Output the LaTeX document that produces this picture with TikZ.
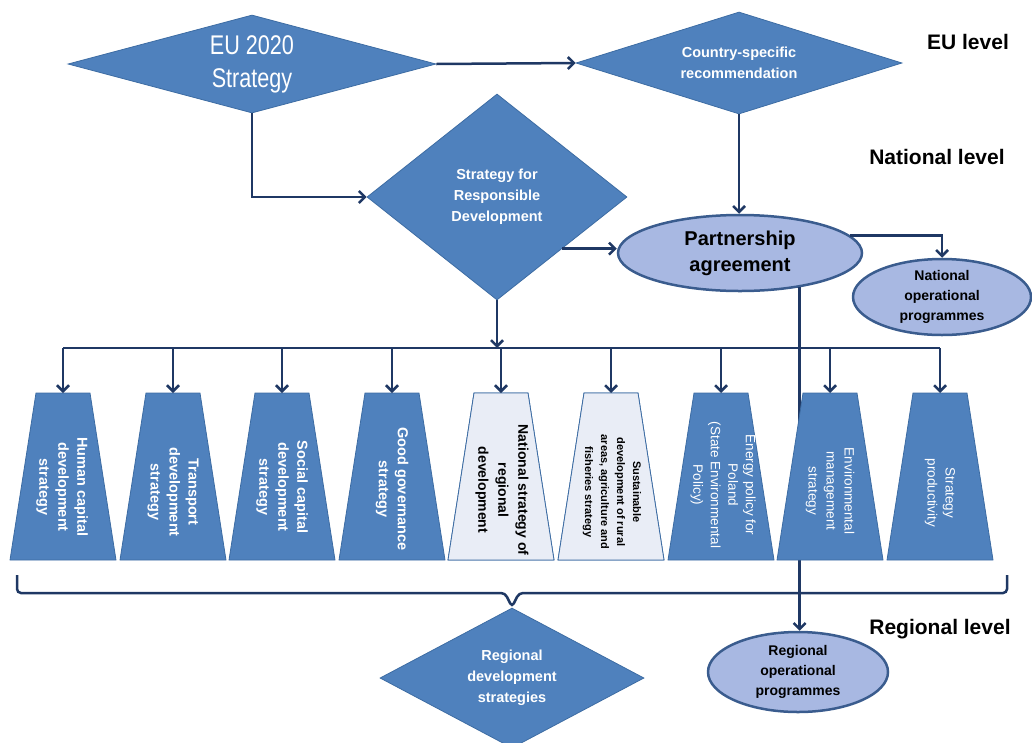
\documentclass[tikz,border=0pt]{standalone}
\usepackage{fontspec}
\setmainfont{Liberation Sans}
\newfontfamily\narrowfont{Liberation Sans}[FakeStretch=0.8]
\usetikzlibrary{shapes.geometric,arrows.meta,positioning}

\definecolor{boxblue}{HTML}{4F81BD}
\definecolor{boxline}{HTML}{3D6CA3}
\definecolor{arrownavy}{HTML}{1F3864}
\definecolor{ovalfill}{HTML}{A8B8E2}
\definecolor{ovalline}{HTML}{3A5C8E}
\definecolor{palebox}{HTML}{E9EDF6}

\begin{document}
\begin{tikzpicture}[x=1pt, y=-1pt,
  diam/.style={diamond, fill=boxblue, draw=boxline, line width=0.8pt, inner sep=0pt,
    text=white, align=center, font=\bfseries\fontsize{14.5}{21}\selectfont},
  oval/.style={ellipse, fill=ovalfill, draw=ovalline, line width=2.5pt, inner sep=-4pt,
    align=center, font=\bfseries\fontsize{14}{20}\selectfont},
  trap/.style={fill=boxblue, draw=boxline, line width=0.8pt},
  traptext/.style={rotate=-90, align=center, text=white,
    font=\bfseries\fontsize{14.5}{19}\selectfont},
  levellabel/.style={font=\bfseries\fontsize{21}{24}\selectfont},
  arr/.style={draw=arrownavy, line width=2.5pt, -{Straight Barb[length=6pt,width=12pt]}},
  link/.style={draw=arrownavy, line width=2.5pt}]

\useasboundingbox (0,0) rectangle (1032,742);
\clip (0,0) rectangle (1032,742);

\node[diam, aspect=3.75, minimum width=368pt, minimum height=98pt,
  font=\narrowfont\fontsize{27}{33}\selectfont] (eu) at (252,64) {EU 2020\\Strategy};
\node[diam, aspect=3.2, minimum width=326pt, minimum height=102pt] (csr) at (739,63) {Country-specific\\recommendation};
\node[diam, aspect=1.26, minimum width=260pt, minimum height=206pt] (srd) at (497,197) {Strategy for\\Responsible\\Development};
\node[oval, minimum width=244pt, minimum height=76pt,
  font=\bfseries\fontsize{20}{26}\selectfont] (pa) at (740,253) {Partnership\\agreement};
\node[oval, minimum width=178pt, minimum height=76pt] (nop) at (942,297) {National\\operational\\programmes};
\node[oval, minimum width=180pt, minimum height=80pt] (rop) at (798,672) {Regional\\operational\\programmes};
\node[diam, aspect=1.89, minimum width=264pt, minimum height=140pt] (rds) at (512,678) {Regional\\development\\strategies};

\node[levellabel] (eulevel) at (968,42) {EU level};
\node[levellabel] (natlevel) at (937,157) {National level};
\node[levellabel] (reglevel) at (940,629) {Regional level};

\draw[arr] (eu.east) -- (csr.west);
\draw[arr] (eu.south) |- (srd.west);
\draw[arr] (csr.south) -- (csr.south |- pa.north);
\draw[arr] (srd.south east) -- (srd.south east -| pa.west);
\draw[arr] (pa.9) -| (nop.north);
\draw[arr] (pa.-30) -- (pa.-30 |- rop.north);

\coordinate (barleft) at (63,348);
\coordinate (barright) at (940,348);
\draw[link] (barleft) -- (barright);
\draw[arr] (srd.south) -- (srd.south |- barleft);

\foreach \i/\x in {1/63, 2/173, 3/282, 4/392, 5/501, 6/611, 7/721, 8/830, 9/940} {
  \draw[trap] (\x-53,560) -- (\x-27,393) -- (\x+27,393) -- (\x+53,560) -- cycle;
  \coordinate (t\i) at (\x,393);
}
\draw[trap, fill=palebox] (448,560) -- (474,393) -- (528,393) -- (554,560) -- cycle;
\draw[trap, fill=palebox] (558,560) -- (584,393) -- (638,393) -- (664,560) -- cycle;

\foreach \i in {1,...,9}
  \draw[arr] (t\i |- barleft) -- (t\i);

\node[traptext] (s1) at (62,487) {Human capital\\development\\strategy};
\node[traptext] (s2) at (173,492) {Transport\\development\\strategy};
\node[traptext] (s3) at (282,487) {Social capital\\development\\strategy};
\node[traptext] (s4) at (392,489) {Good governance\\strategy};
\node[traptext, text=black, font=\bfseries\fontsize{14}{20}\selectfont] (s5) at (502,490) {National strategy of\\regional\\development};
\node[traptext, text=black, font=\bfseries\fontsize{11}{16}\selectfont] (s6) at (612,492) {Sustainable\\development of rural\\areas, agriculture and\\fisheries strategy};
\node[traptext, font=\fontsize{13.5}{17.5}\selectfont] (s7) at (723,485) {Energy policy for\\Poland\\(State Environmental\\Policy)};
\node[traptext, font=\fontsize{13.5}{18}\selectfont] (s8) at (830,491) {Environmental\\management\\strategy};
\node[traptext, font=\fontsize{13.5}{18}\selectfont] (s9) at (940,493) {Strategy\\productivity};

\draw[link, rounded corners=4pt] (17,575) |- (505,593) -- (512,607) -- (519,593) -| (1007,575);

\end{tikzpicture}
\end{document}
